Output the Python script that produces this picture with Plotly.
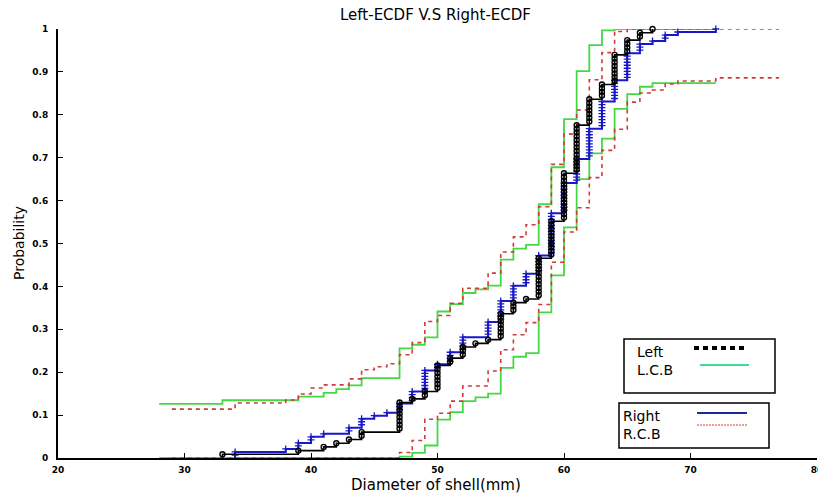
import numpy as np
import plotly.graph_objects as go

# Shell diameters (mm) and the number of shells measured at each diameter
left_diam = [33, 39, 41, 42, 43, 44, 47, 48, 49, 50, 51, 52, 53, 54, 55, 56, 57,
             58, 59, 60, 61, 62, 63, 64, 65, 66, 67]
left_count = [1, 1, 1, 1, 1, 2, 8, 1, 2, 7, 2, 3, 1, 1, 7, 3, 1,
              11, 10, 13, 13, 7, 4, 8, 4, 2, 1]
right_diam = [34, 38, 39, 40, 41, 43, 44, 45, 46, 47, 48, 49, 50, 51, 52, 54, 55,
              56, 57, 58, 59, 60, 61, 62, 63, 64, 65, 66, 67, 68, 69, 72]
right_count = [2, 1, 2, 2, 1, 2, 3, 1, 1, 3, 4, 7, 2, 4, 5, 5, 7,
               5, 4, 6, 14, 10, 8, 10, 9, 7, 9, 3, 1, 2, 1, 1]

# Half-width of the simultaneous confidence band and the x-span it is drawn over
left_band = 0.126
right_band = 0.114
left_span = [28, 72]
right_span = [29, 77]

x_ticks = [20, 30, 40, 50, 60, 70, 80]
x_tick_text = ["20", "30", "40", "50", "60", "70", "80"]
y_ticks = [0, 0.1, 0.2, 0.3, 0.4, 0.5, 0.6, 0.7, 0.8, 0.9, 1]
y_tick_text = ["0", "0.1", "0.2", "0.3", "0.4", "0.5", "0.6", "0.7", "0.8", "0.9", "1"]

title_text = "Left-ECDF V.S Right-ECDF"
x_title = "Diameter of shell(mm)"
y_title = "Probability"

GREEN = "#45d845"
RED = "#d23a3a"
BLUE = "#1818c8"
BLACK = "#000000"


def ecdf(diam, count):
    F = np.cumsum(count) / float(sum(count))
    return np.asarray(diam, float), F


def ecdf_line(diam, F):
    xs = [diam[0]] + list(diam)
    ys = [0.0] + list(F)
    return xs, ys


def band_lines(diam, F, eps, span):
    xs = [span[0]] + list(diam) + [span[1]]
    up = np.clip(np.concatenate([[0.0], F, [F[-1]]]) + eps, 0, 1)
    lo = np.clip(np.concatenate([[0.0], F, [F[-1]]]) - eps, 0, 1)
    return xs, list(up), list(lo)


def sample_points(diam, count):
    n = float(sum(count))
    xs, ys = [], []
    cum = 0
    for d, c in zip(diam, count):
        for k in range(1, c + 1):
            xs.append(d)
            ys.append((cum + k) / n)
        cum += c
    return xs, ys


lx, lF = ecdf(left_diam, left_count)
rx, rF = ecdf(right_diam, right_count)

fig = go.Figure()

# confidence bands
bx, bup, blo = band_lines(lx, lF, left_band, left_span)
for yy in (bup, blo):
    fig.add_trace(go.Scatter(x=bx, y=yy, mode="lines", line=dict(color=GREEN, width=1.8, shape="hv"),
                             showlegend=False, hoverinfo="skip"))
bx, bup, blo = band_lines(rx, rF, right_band, right_span)
for yy in (bup, blo):
    fig.add_trace(go.Scatter(x=bx, y=yy, mode="lines",
                             line=dict(color=RED, width=1.6, shape="hv", dash="4px,4px"),
                             showlegend=False, hoverinfo="skip"))

# Right ECDF (blue, '+' at each shell)
xs, ys = ecdf_line(rx, rF)
fig.add_trace(go.Scatter(x=xs, y=ys, mode="lines", line=dict(color=BLUE, width=2, shape="hv"),
                         showlegend=False, hoverinfo="skip"))
px_, py_ = sample_points(right_diam, right_count)
fig.add_trace(go.Scatter(x=px_, y=py_, mode="markers",
                         marker=dict(symbol="cross-thin", size=5, line=dict(color=BLUE, width=1.3)),
                         showlegend=False, hoverinfo="skip", cliponaxis=False))

# Left ECDF (black, 'o' at each shell)
xs, ys = ecdf_line(lx, lF)
fig.add_trace(go.Scatter(x=xs, y=ys, mode="lines", line=dict(color=BLACK, width=1.6, shape="hv"),
                         showlegend=False, hoverinfo="skip"))
px_, py_ = sample_points(left_diam, left_count)
fig.add_trace(go.Scatter(x=px_, y=py_, mode="markers",
                         marker=dict(symbol="circle-open", size=5, color=BLACK, line=dict(width=1.4)),
                         showlegend=False, hoverinfo="skip", cliponaxis=False))

# plot-area geometry in pixels
W, H = 818, 497
L, R, T, B = 58, 817, 29, 458


def pxx(px):
    return (px - L) / float(R - L)


def pxy(py):
    return (B - py) / float(B - T)


shapes = []
annotations = []
txt_font = dict(family="DejaVu Sans", size=14, color="black")

# legend boxes, drawn MATLAB-style with the label first and the line sample after it
shapes.append(dict(type="rect", xref="paper", yref="paper", x0=pxx(624), x1=pxx(775),
                   y0=pxy(393), y1=pxy(339), line=dict(color="black", width=1.5),
                   fillcolor="white", layer="above"))
shapes.append(dict(type="rect", xref="paper", yref="paper", x0=pxx(619), x1=pxx(769),
                   y0=pxy(448), y1=pxy(403), line=dict(color="black", width=1.5),
                   fillcolor="white", layer="above"))

legend_items = [
    ("Left", 635, 352, 694, 747, 348, dict(color=BLACK, width=4, dash="5px,4px")),
    ("L.C.B", 635, 370, 700, 749, 365, dict(color="#3ddc98", width=2)),
    ("Right", 621, 416, 697, 747, 413, dict(color="#1a2a9a", width=2)),
    ("R.C.B", 621, 434, 697, 747, 425, dict(color=RED, width=1, dash="2px,1px")),
]
for label, tx, ty, x0, x1, ly, lstyle in legend_items:
    annotations.append(dict(text=label, xref="paper", yref="paper", x=pxx(tx), y=pxy(ty),
                            xanchor="left", yanchor="middle", showarrow=False, font=txt_font))
    shapes.append(dict(type="line", xref="paper", yref="paper", x0=pxx(x0), x1=pxx(x1),
                       y0=pxy(ly), y1=pxy(ly), line=lstyle, layer="above"))

# titles
annotations.append(dict(text=title_text, xref="paper", yref="paper", x=pxx(435), y=pxy(15),
                        xanchor="center", yanchor="middle", showarrow=False,
                        font=dict(family="DejaVu Sans", size=15, color="black")))
annotations.append(dict(text=x_title, xref="paper", yref="paper", x=pxx(436), y=pxy(485),
                        xanchor="center", yanchor="middle", showarrow=False,
                        font=dict(family="DejaVu Sans", size=15, color="black")))
annotations.append(dict(text=y_title, xref="paper", yref="paper", x=pxx(19), y=pxy(243),
                        xanchor="center", yanchor="middle", showarrow=False, textangle=-90,
                        font=dict(family="DejaVu Sans", size=14, color="black")))

tick_font = dict(family="DejaVu Sans", size=9, color="black", weight="bold")

fig.update_layout(
    width=W, height=H,
    margin=dict(l=L, r=W - R, t=T, b=H - B, pad=0, autoexpand=False),
    paper_bgcolor="white", plot_bgcolor="white",
    showlegend=False,
    shapes=shapes, annotations=annotations,
    xaxis=dict(range=[20, 80], tickvals=x_ticks, ticktext=x_tick_text, ticks="inside",
               ticklen=5, tickwidth=1.2, tickcolor="black", showline=True, linecolor="black",
               linewidth=2, showgrid=False, zeroline=False, tickfont=tick_font,
               ticklabelstandoff=2, ticklabeloverflow="allow", automargin=False),
    yaxis=dict(range=[0, 1], tickvals=y_ticks, ticktext=y_tick_text, ticks="inside",
               ticklen=5, tickwidth=1.2, tickcolor="black", showline=True, linecolor="black",
               linewidth=2, showgrid=False, zeroline=False, tickfont=tick_font,
               ticklabelstandoff=6, automargin=False),
)

fig.write_html("out.html")
